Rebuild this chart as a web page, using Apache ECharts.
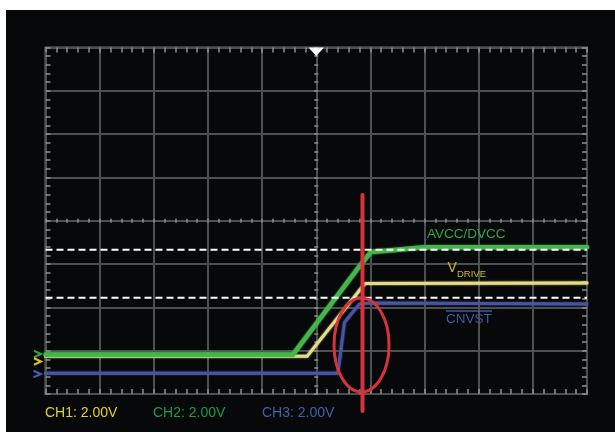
<!DOCTYPE html>
<html>
<head>
<meta charset="utf-8">
<script src="https://cdn.jsdelivr.net/npm/echarts@6/dist/echarts.min.js"></script>
<style>
  html, body { margin: 0; padding: 0; background: #ffffff; }
  #scope { width: 615px; height: 432px; }
</style>
</head>
<body>
<div id="scope"></div>
<script>
// Screen is 10 horizontal x 8 vertical divisions; trace points are [time div, level div].
const avccDvcc = [[-5, -3.09], [-0.43, -3.09], [0.80, -1.05], [1.01, -0.72], [1.40, -0.68], [2.0, -0.61], [5, -0.61]];
const vDrive   = [[-5, -3.13], [-0.17, -3.13], [0.90, -1.45], [5, -1.44]];
const cnvst    = [[-5, -3.52], [0.40, -3.52], [0.52, -2.35], [0.80, -1.92], [1.0, -1.90], [5, -1.92]];

// Reference levels (dashed) and the highlighted instant
const dashLevels = [-0.67, -1.78];
const markerTime = 0.854;
const markerSpan = [0.595, -4.39];
const highlightEllipse = [[0.836, -2.87, 0.508, 1.085]]; // cx, cy, rx, ry (div)

const channelLabels = ['CH1: 2.00V', 'CH2: 2.00V', 'CH3: 2.00V'];

const GRID = { left: 45.5, top: 47.5, width: 541.5, height: 346.5 };
const gridLine = '#4b5151';
const tickCol = '#8c9090';
const red = '#d8323a';
const font = "'Liberation Sans', Arial, sans-serif";

function axisBase(min, max, pos, gridIndex, len, split) {
  return {
    type: 'value', min: min, max: max, interval: 1, position: pos, gridIndex: gridIndex,
    axisLine: { show: false, onZero: false },
    axisLabel: { show: false },
    axisTick: { show: true, inside: true, length: len, lineStyle: { color: tickCol, width: 1.5 } },
    minorTick: { show: true, splitNumber: 5, length: len, lineStyle: { color: tickCol, width: 1.5 } },
    splitLine: { show: !!split, lineStyle: { color: gridLine, width: 2 } },
    minorSplitLine: { show: false }
  };
}
function hiddenAxis(gridIndex) {
  return { type: 'value', min: -1, max: 1, gridIndex: gridIndex, show: false, axisLine: { onZero: false } };
}

function ellipsePath(cx, cy, rx, ry) {
  return 'M' + (cx - rx) + ' ' + cy +
    ' A' + rx + ' ' + ry + ' 0 1 0 ' + (cx + rx) + ' ' + cy +
    ' A' + rx + ' ' + ry + ' 0 1 0 ' + (cx - rx) + ' ' + cy + ' Z';
}

function trace(name, data, color, width, z) {
  return {
    name: name, type: 'line', data: data, xAxisIndex: 0, yAxisIndex: 0,
    showSymbol: false, symbol: 'none', z: z, silent: true, animation: false,
    lineStyle: { color: color, width: width, cap: 'round', join: 'round', shadowColor: color, shadowBlur: 2 }
  };
}

const centerY = GRID.top + GRID.height / 2;
const centerX = GRID.left + GRID.width / 2;

const series = [
  trace('CNVST', cnvst, '#4a54a6', 3, 3),
  trace('VDRIVE', vDrive, '#e4dc8a', 3, 4),
  trace('AVCC/DVCC', avccDvcc, '#44b54b', 4.5, 5)
];
dashLevels.forEach(function (lv) {
  series.push({
    type: 'line', xAxisIndex: 0, yAxisIndex: 0, data: [[-5, lv], [5, lv]],
    showSymbol: false, symbol: 'none', z: 6, silent: true, animation: false,
    lineStyle: { color: '#ffffff', width: 2, type: [7, 4] }
  });
});
series.push({
  type: 'line', xAxisIndex: 0, yAxisIndex: 0, clip: false,
  data: [[markerTime, markerSpan[0]], [markerTime, markerSpan[1]]],
  showSymbol: false, symbol: 'none', z: 8, silent: true, animation: false,
  lineStyle: { color: red, width: 4, cap: 'round' }
});
series.push({
  type: 'custom', xAxisIndex: 0, yAxisIndex: 0, clip: false, z: 8, silent: true, animation: false,
  data: highlightEllipse,
  renderItem: function (params, api) {
    const c = api.coord([api.value(0), api.value(1)]);
    const s = api.size([api.value(2), api.value(3)]);
    return {
      type: 'path',
      shape: { pathData: ellipsePath(c[0], c[1], s[0], s[1]) },
      style: { fill: 'none', stroke: red, lineWidth: 3 }
    };
  }
});

function chevron(x, y, w, h, color) {
  return {
    type: 'polyline', z: 20,
    shape: { points: [[x, y - h / 2], [x + w, y], [x, y + h / 2]] },
    style: { stroke: color, lineWidth: 2, fill: null }
  };
}
function txt(x, y, text, size, color) {
  return {
    type: 'text', x: x, y: y, z: 20,
    style: { text: text, fill: color, font: size + 'px ' + font, textVerticalAlign: 'middle' }
  };
}

const option = {
  backgroundColor: '#070809',
  animation: false,
  grid: [
    Object.assign({ show: true, borderColor: '#cfd1d1', borderWidth: 1.5, backgroundColor: 'transparent', containLabel: false }, GRID),
    { left: GRID.left, width: GRID.width, top: centerY - 0.5, height: 1, containLabel: false },
    { left: centerX - 0.5, width: 1, top: GRID.top, height: GRID.height, containLabel: false }
  ],
  xAxis: [
    axisBase(-5, 5, 'bottom', 0, 5, true),
    axisBase(-5, 5, 'top', 0, 5, false),
    axisBase(-5, 5, 'bottom', 1, 2.5, false),
    axisBase(-5, 5, 'top', 1, 2.5, false),
    hiddenAxis(2)
  ],
  yAxis: [
    axisBase(-4, 4, 'left', 0, 5, true),
    axisBase(-4, 4, 'right', 0, 5, false),
    hiddenAxis(1),
    axisBase(-4, 4, 'left', 2, 2.5, false),
    axisBase(-4, 4, 'right', 2, 2.5, false)
  ],
  series: series,
  graphic: [
    { type: 'rect', shape: { x: 0, y: 0, width: 615, height: 10 }, style: { fill: '#ffffff' }, z: 30 },
    { type: 'rect', shape: { x: 0, y: 0, width: 6, height: 432 }, style: { fill: '#ffffff' }, z: 30 },
    // trigger position marker
    { type: 'polygon', z: 20, shape: { points: [[308.5, 47.5], [324, 47.5], [316.25, 56]] }, style: { fill: '#ffffff' } },
    // channel ground markers
    chevron(34, 354, 7, 6.5, '#2ea64a'),
    chevron(34, 361.5, 7, 6.5, '#e2c21c'),
    chevron(33.5, 374, 7.5, 6.5, '#3f63ac'),
    // trace annotations
    txt(427, 234.5, 'AVCC/DVCC', 13.5, '#2ea64a'),
    txt(447.5, 268.5, 'V', 14, '#d8b820'),
    txt(457, 274, 'DRIVE', 9.5, '#d8b820'),
    txt(446, 319.5, 'CNVST', 13.5, '#3f5aa5'),
    { type: 'line', z: 20, shape: { x1: 446, y1: 311, x2: 492, y2: 311 }, style: { stroke: '#3f5aa5', lineWidth: 1.5 } },
    // channel scale readouts
    txt(45, 413, channelLabels[0], 14, '#e5d31a'),
    txt(153, 413, channelLabels[1], 14, '#1f9a48'),
    txt(262, 413, channelLabels[2], 14, '#3f63ac')
  ]
};

const chart = echarts.init(document.getElementById('scope'), null, { renderer: 'canvas' });
chart.setOption(option);
</script>
</body>
</html>
